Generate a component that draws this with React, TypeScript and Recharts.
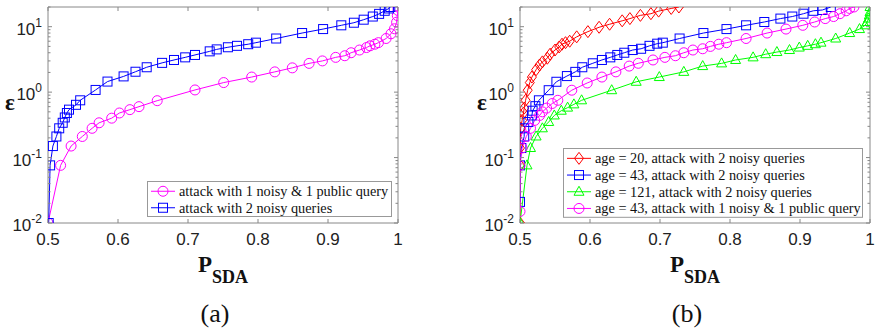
import React from "react";
import { LineChart, Line, XAxis, YAxis, ReferenceArea, Legend } from "recharts";

// ticks
const xTicks = [0.5, 0.6, 0.7, 0.8, 0.9, 1];
const yDecades = [0.01, 0.1, 1, 10];
const yTicks = [
  0.01, 0.02, 0.03, 0.04, 0.05, 0.06, 0.07, 0.08, 0.09,
  0.1, 0.2, 0.3, 0.4, 0.5, 0.6, 0.7, 0.8, 0.9,
  1, 2, 3, 4, 5, 6, 7, 8, 9,
  10, 20,
];

// (a) attack with 1 noisy & 1 public query
const aPublicP = [0.5, 0.518, 0.533, 0.549, 0.563, 0.573, 0.591, 0.602, 0.617, 0.63, 0.656, 0.71, 0.751, 0.791, 0.824, 0.849, 0.873, 0.892, 0.911, 0.924, 0.933, 0.945, 0.955, 0.96, 0.967, 0.972, 0.983, 0.99, 0.995, 0.998, 0.999, 1.0, 1.0];
const aPublicEps = [0.01, 0.076, 0.15, 0.21, 0.28, 0.34, 0.4, 0.48, 0.54, 0.6, 0.74, 1.08, 1.4, 1.7, 2.04, 2.35, 2.75, 3.0, 3.4, 3.6, 4.0, 4.4, 4.8, 5.1, 5.4, 5.7, 6.6, 7.8, 9.3, 11.7, 14.8, 17.7, 20];
// (a) attack with 2 noisy queries
const aNoisyP = [0.501, 0.503, 0.507, 0.512, 0.516, 0.521, 0.524, 0.527, 0.53, 0.54, 0.546, 0.568, 0.585, 0.608, 0.625, 0.641, 0.663, 0.68, 0.696, 0.71, 0.731, 0.741, 0.757, 0.77, 0.786, 0.797, 0.826, 0.863, 0.893, 0.919, 0.937, 0.951, 0.964, 0.973, 0.981, 0.987, 0.989];
const aNoisyEps = [0.01, 0.076, 0.15, 0.21, 0.28, 0.34, 0.41, 0.48, 0.54, 0.64, 0.75, 1.08, 1.45, 1.74, 2.05, 2.4, 2.8, 3.1, 3.4, 3.7, 4.2, 4.5, 4.85, 5.1, 5.4, 5.7, 6.6, 8.0, 9.2, 10.5, 11.5, 12.8, 14.3, 15.7, 17.5, 19, 20];

// (b) age = 20, 2 noisy queries
const b20P = [0.5, 0.5, 0.5, 0.501, 0.503, 0.505, 0.506, 0.508, 0.511, 0.514, 0.517, 0.523, 0.528, 0.532, 0.539, 0.543, 0.55, 0.556, 0.56, 0.565, 0.571, 0.581, 0.597, 0.613, 0.628, 0.646, 0.657, 0.672, 0.687, 0.698, 0.716, 0.727];
const b20Eps = [0.01, 0.076, 0.14, 0.28, 0.37, 0.48, 0.57, 0.75, 1.07, 1.4, 1.7, 2.2, 2.6, 2.9, 3.3, 3.8, 4.4, 4.9, 5.4, 5.7, 6.0, 7.0, 8.4, 9.8, 10.9, 12.3, 13.3, 14.9, 15.8, 17.3, 19, 20];
// (b) age = 43, 2 noisy queries
const b43P = [0.5, 0.5, 0.502, 0.506, 0.506, 0.512, 0.517, 0.518, 0.522, 0.527, 0.541, 0.552, 0.567, 0.579, 0.589, 0.604, 0.617, 0.629, 0.639, 0.649, 0.661, 0.673, 0.685, 0.696, 0.704, 0.728, 0.762, 0.795, 0.823, 0.849, 0.872, 0.889, 0.905, 0.919, 0.932, 0.944];
const b43Eps = [0.021, 0.076, 0.14, 0.21, 0.28, 0.35, 0.44, 0.52, 0.61, 0.75, 1.07, 1.44, 1.76, 2.04, 2.4, 2.76, 3.1, 3.4, 3.7, 4.0, 4.4, 4.6, 5.1, 5.5, 5.7, 6.6, 8.0, 9.2, 10.5, 11.8, 13.3, 14.3, 15.8, 17.5, 18, 20];
// (b) age = 121, 2 noisy queries
const b121P = [0.5, 0.51, 0.515, 0.523, 0.532, 0.541, 0.549, 0.559, 0.568, 0.577, 0.588, 0.631, 0.666, 0.699, 0.734, 0.761, 0.788, 0.808, 0.833, 0.851, 0.867, 0.885, 0.899, 0.911, 0.922, 0.93, 0.951, 0.971, 0.985, 0.993, 0.996, 0.998, 0.999, 1.0, 1.0];
const b121Eps = [0.01, 0.076, 0.14, 0.21, 0.28, 0.35, 0.44, 0.52, 0.58, 0.65, 0.75, 1.07, 1.44, 1.7, 2.04, 2.5, 2.75, 3.1, 3.4, 3.8, 4.1, 4.4, 4.8, 5.1, 5.4, 5.7, 6.6, 8.0, 9.2, 10.5, 11.8, 13.3, 14.9, 16.7, 20];
// (b) age = 43, 1 noisy & 1 public query
const b43PubP = [0.5, 0.5, 0.503, 0.509, 0.515, 0.521, 0.528, 0.532, 0.538, 0.546, 0.554, 0.574, 0.596, 0.617, 0.637, 0.656, 0.669, 0.69, 0.707, 0.722, 0.734, 0.747, 0.761, 0.772, 0.784, 0.795, 0.823, 0.853, 0.88, 0.904, 0.921, 0.936, 0.948, 0.957, 0.966, 0.971, 0.977];
const b43PubEps = [0.015, 0.076, 0.14, 0.21, 0.28, 0.37, 0.44, 0.5, 0.57, 0.67, 0.75, 1.07, 1.38, 1.7, 2.04, 2.5, 2.76, 3.1, 3.4, 3.6, 4.0, 4.4, 4.6, 5.0, 5.4, 5.7, 6.6, 8.0, 9.2, 10.5, 11.8, 13.3, 14.3, 15.8, 17.5, 19, 20];

const legendA = ["attack with 1 noisy & 1 public query", "attack with 2 noisy queries"];
const legendB = [
  "age = 20, attack with 2 noisy queries",
  "age = 43, attack with 2 noisy queries",
  "age = 121, attack with 2 noisy queries",
  "age = 43, attack with 1 noisy & 1 public query",
];

const zip = (p: number[], e: number[]) => p.map((v, i) => ({ p: v, eps: e[i] }));

type Marker = "circle" | "square" | "diamond" | "triangle";
type Series = { name: string; color: string; marker: Marker; data: { p: number; eps: number }[] };

const seriesA: Series[] = [
  { name: legendA[0], color: "#ff00ff", marker: "circle", data: zip(aPublicP, aPublicEps) },
  { name: legendA[1], color: "#0000ff", marker: "square", data: zip(aNoisyP, aNoisyEps) },
];
const seriesB: Series[] = [
  { name: legendB[0], color: "#ff0000", marker: "diamond", data: zip(b20P, b20Eps) },
  { name: legendB[1], color: "#0000ff", marker: "square", data: zip(b43P, b43Eps) },
  { name: legendB[2], color: "#00ff00", marker: "triangle", data: zip(b121P, b121Eps) },
  { name: legendB[3], color: "#ff00ff", marker: "circle", data: zip(b43PubP, b43PubEps) },
];

const PW = 350;
const PH = 216;
const AXIS = "#888";
const SANS = "'Liberation Sans', Arial, sans-serif";
const SERIF = "'Liberation Serif', 'Times New Roman', serif";

function MarkerShape({ cx, cy, kind, color }: { cx: number; cy: number; kind: Marker; color: string }) {
  if (cx == null || cy == null || isNaN(cx) || isNaN(cy)) return null;
  const common = { fill: "none", stroke: color, strokeWidth: 1 };
  if (kind === "circle") return <circle cx={cx} cy={cy} r={5} {...common} />;
  if (kind === "square") return <rect x={cx - 4.5} y={cy - 4.5} width={9} height={9} {...common} />;
  if (kind === "diamond")
    return <polygon points={`${cx},${cy - 6} ${cx + 4.5},${cy} ${cx},${cy + 6} ${cx - 4.5},${cy}`} {...common} />;
  return <polygon points={`${cx},${cy - 5.5} ${cx + 5},${cy + 3.5} ${cx - 5},${cy + 3.5}`} {...common} />;
}

function XTick(props: any) {
  const { x, y, payload } = props;
  return (
    <g>
      <line x1={x} x2={x} y1={y} y2={y - 4} stroke={AXIS} />
      <line x1={x} x2={x} y1={y - PH} y2={y - PH + 4} stroke={AXIS} />
      <text x={x} y={y + 22} textAnchor="middle" fontFamily={SANS} fontSize={17} fill="#222">
        {String(payload.value)}
      </text>
    </g>
  );
}

function YTick(props: any) {
  const { x, y, payload } = props;
  const v = payload.value;
  const major = yDecades.some((d) => Math.abs(d - v) < 1e-9);
  const len = major ? 4 : 2.5;
  const exp = Math.round(Math.log10(v));
  return (
    <g>
      <line x1={x} x2={x + len} y1={y} y2={y} stroke={AXIS} />
      <line x1={x + PW} x2={x + PW - len} y1={y} y2={y} stroke={AXIS} />
      {major && (
        <text x={x - 6} y={y + 8} textAnchor="end" fontFamily={SANS} fontSize={17} fill="#222">
          10
          <tspan dy={-8} fontSize={12}>
            {exp}
          </tspan>
        </text>
      )}
    </g>
  );
}

function XLabel(props: any) {
  const { viewBox, tag } = props;
  const cx = viewBox.x + viewBox.width / 2;
  const top = viewBox.y;
  return (
    <g>
      <text x={cx - 25} y={top + 49} fontFamily={SERIF} fontWeight="bold" fontSize={23} fill="#111">
        P
        <tspan dy={11} fontSize={18}>
          SDA
        </tspan>
      </text>
      <text x={cx - 8} y={top + 99} textAnchor="middle" fontFamily={SERIF} fontSize={26} fill="#111">
        {tag}
      </text>
    </g>
  );
}

function YLabel(props: any) {
  const { viewBox } = props;
  return (
    <text x={viewBox.x + viewBox.width - 38} y={110} textAnchor="middle" fontFamily={SERIF} fontWeight="bold" fontSize={23} fill="#111">
      ε
    </text>
  );
}

function LegendBox({ series, width, rowH }: { series: Series[]; width: number; rowH: number }) {
  const height = series.length * rowH + 3;
  return (
    <svg width={width} height={height} style={{ display: "block" }}>
      <rect x={0.5} y={0.5} width={width - 1} height={height - 1} fill="#fff" stroke="#999" />
      {series.map((s, i) => {
        const cy = 2 + rowH * (i + 0.5);
        return (
          <g key={s.name}>
            <line x1={4} x2={28} y1={cy} y2={cy} stroke={s.color} />
            <MarkerShape cx={16} cy={cy} kind={s.marker} color={s.color} />
            <text x={32} y={cy + 5} fontFamily={SERIF} fontSize={14.3} fill="#111">
              {s.name}
            </text>
          </g>
        );
      })}
    </svg>
  );
}

function Panel({
  series,
  tag,
  left,
  yWidth,
  legendPos,
}: {
  series: Series[];
  tag: string;
  left: number;
  yWidth: number;
  legendPos: { left: number; top: number; width: number; rowH: number };
}) {
  return (
    <div style={{ position: "absolute", left, top: 0 }}>
      <LineChart width={440} height={336} margin={{ top: 7, right: 440 - yWidth - PW, bottom: 83, left: 0 }}>
        <XAxis
          type="number"
          dataKey="p"
          domain={[0.5, 1]}
          ticks={xTicks}
          interval={0}
          allowDataOverflow
          height={30}
          axisLine={false}
          tickLine={false}
          tickSize={0}
          tickMargin={0}
          tick={<XTick />}
          label={<XLabel tag={tag} />}
        />
        <YAxis
          type="number"
          dataKey="eps"
          scale="log"
          domain={[0.01, 20]}
          ticks={yTicks}
          interval={0}
          allowDataOverflow
          width={yWidth}
          axisLine={false}
          tickLine={false}
          tickSize={0}
          tickMargin={0}
          tick={<YTick />}
          label={<YLabel />}
        />
        <ReferenceArea x1={0.5} x2={1} y1={0.01} y2={20} fill="none" stroke={AXIS} strokeOpacity={1} />
        {series.map((s) => (
          <Line
            key={s.name}
            name={s.name}
            data={s.data}
            dataKey="eps"
            type="linear"
            stroke={s.color}
            strokeWidth={1}
            isAnimationActive={false}
            activeDot={false}
            dot={(d: any) => <MarkerShape key={d.index} cx={d.cx} cy={d.cy} kind={s.marker} color={s.color} />}
          />
        ))}
        <Legend
          layout="vertical"
          align="center"
          verticalAlign="middle"
          wrapperStyle={{ left: legendPos.left, top: legendPos.top, width: legendPos.width }}
          content={() => <LegendBox series={series} width={legendPos.width} rowH={legendPos.rowH} />}
        />
      </LineChart>
    </div>
  );
}

export default function App() {
  return (
    <div style={{ position: "absolute", left: 0, top: 0, width: 876, height: 336, background: "#fff" }}>
      <Panel series={seriesA} tag="(a)" left={0} yWidth={48} legendPos={{ left: 147, top: 181, width: 245, rowH: 16.5 }} />
      <Panel series={seriesB} tag="(b)" left={436} yWidth={84} legendPos={{ left: 127, top: 148, width: 300, rowH: 16.7 }} />
    </div>
  );
}
